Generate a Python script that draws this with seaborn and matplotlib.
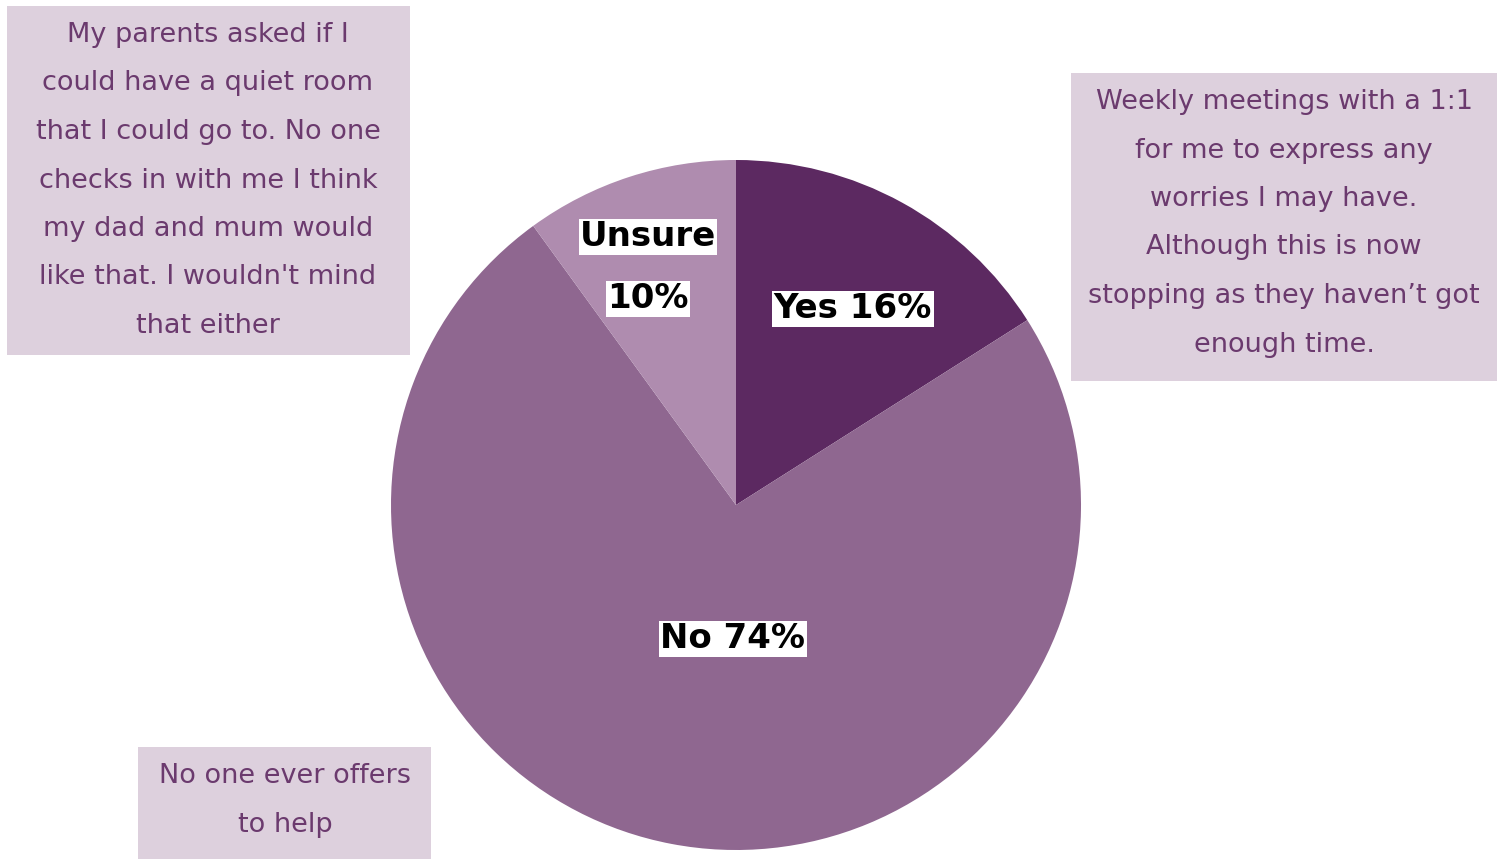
import matplotlib
matplotlib.use("Agg")
import matplotlib.pyplot as plt
from matplotlib.patches import Rectangle
import seaborn as sns

# data
categories = ["Yes", "No", "Unsure"]
shares = [16, 74, 10]
slice_colors = ["#5C2961", "#8F6790", "#AF8CAF"]

quote_left = ["My parents asked if I", "could have a quiet room", "that I could go to. No one",
              "checks in with me I think", "my dad and mum would",
              "like that. I wouldn't mind", "that either"]
quote_right = ["Weekly meetings with a 1:1", "for me to express any", "worries I may have.",
               "Although this is now", "stopping as they haven\u2019t got", "enough time."]
quote_bottom = ["No one ever offers", "to help"]

W, H = 1497, 859
sns.set_theme(style="white")
plt.rcParams['font.family'] = ['DejaVu Sans']

fig = plt.figure(figsize=(W / 100, H / 100), dpi=100)
ax = fig.add_axes([0, 0, 1, 1])

# pie in pixel coords (y flipped -> counterclock True draws clockwise on screen)
cx, cy, r = 736, 505, 345
ax.pie(shares, colors=slice_colors, startangle=-90, counterclock=True,
       center=(cx, cy), radius=r, frame=True, wedgeprops=dict(linewidth=0))
ax.set_xlim(0, W)
ax.set_ylim(H, 0)
ax.set_aspect("equal")
ax.axis("off")

lbl = dict(fontsize=24.5, fontweight="bold", color="black", ha="center", va="center",
           bbox=dict(facecolor="white", edgecolor="none", pad=1.0))
ax.text(853, 309, "Yes 16%", **lbl)
ax.text(733, 639, "No 74%", **lbl)
ax.text(648, 237, "Unsure", **lbl)
ax.text(648, 299, "10%", **lbl)

box_color = "#DDD0DD"
txt_color = "#6B3A6E"

def quote_box(x0, y0, x1, y1, lines, xc, ytop, step=48.5):
    ax.add_patch(Rectangle((x0, y0), x1 - x0, y1 - y0, facecolor=box_color, edgecolor="none", zorder=3))
    for i, line in enumerate(lines):
        ax.text(xc, ytop + i * step, line, fontsize=19.5, color=txt_color,
                ha="center", va="center", zorder=4)

quote_box(7, 6, 410, 355, quote_left, 208, 35)
quote_box(1071, 73, 1497, 381, quote_right, 1284, 102)
quote_box(138, 747, 431, 859, quote_bottom, 285, 776)

fig.savefig("out.png", dpi=100, facecolor="white")
